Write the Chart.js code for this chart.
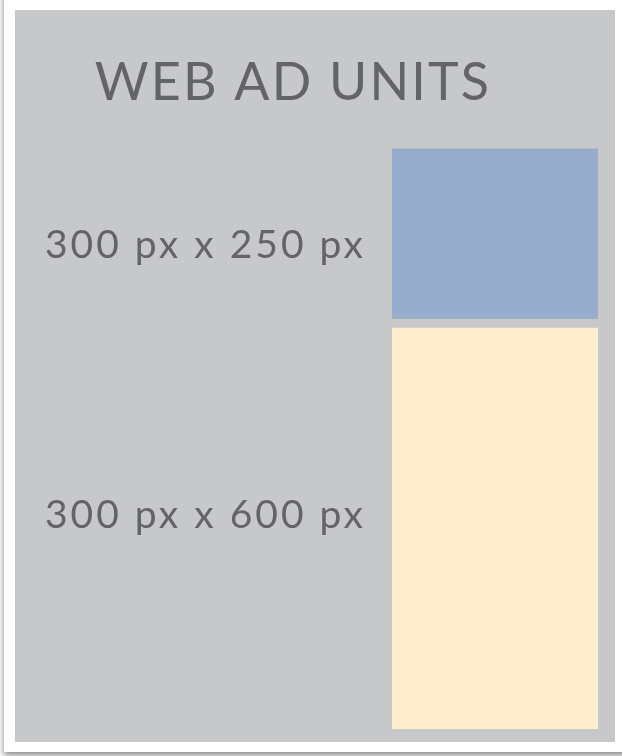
<!DOCTYPE html>
<html>
<head>
<meta charset="utf-8">
<script src="https://cdn.jsdelivr.net/npm/chart.js@4.4.1/dist/chart.umd.min.js"></script>
<style>
  html, body { margin: 0; padding: 0; background: #fafafa; }
  #wrap { width: 622px; height: 756px; }
</style>
</head>
<body>
<div id="wrap"><canvas id="adChart" width="622" height="756"></canvas></div>
<script>
// ad unit sizes (height in px, width is 300 for both)
const units = ["300 px x 600 px", "300 px x 250 px"];
const heights = [600, 250];
const unitColors = ["#feeecb", "#97adcb"];
// where the size labels sit on the value axis
const tickValues = [313, 708];

const panelColor = "#c7c8ca";
const textColor = "#636466";

// card + grey panel behind the chart, plus letter spacing for the text
const panelPlugin = {
  id: "panel",
  beforeDraw(chart) {
    const ctx = chart.ctx;
    ctx.save();
    ctx.fillStyle = "#fafafa";
    ctx.fillRect(0, 0, chart.width, chart.height);
    ctx.shadowColor = "rgba(0,0,0,0.45)";
    ctx.shadowBlur = 6;
    ctx.shadowOffsetY = 3;
    ctx.fillStyle = "#ffffff";
    ctx.fillRect(4, -20, chart.width + 20, 772);
    ctx.restore();
    ctx.fillStyle = panelColor;
    ctx.fillRect(15, 10, 600, 732);
    ctx.letterSpacing = "2.2px"; // title
  },
  beforeDatasetsDraw(chart) {
    chart.ctx.letterSpacing = "3px"; // tick labels (drawn after the bars)
  }
};

const ctx = document.getElementById("adChart").getContext("2d");

new Chart(ctx, {
  type: "bar",
  data: {
    labels: ["unit"],
    datasets: units.map((u, i) => ({
      label: u,
      data: [heights[i]],
      backgroundColor: unitColors[i],
      borderColor: panelColor,
      borderWidth: i === 0 ? { top: 9, left: 0, right: 0, bottom: 0 } : 0,
      borderSkipped: false,
      barPercentage: 1,
      categoryPercentage: 1
    }))
  },
  options: {
    responsive: false,
    animation: false,
    // negative left padding nudges the centred title left a little
    layout: { padding: { left: -12, right: 24, top: 0, bottom: 27 } },
    plugins: {
      legend: { display: false },
      tooltip: { enabled: false },
      title: {
        display: true,
        text: "WEB AD UNITS",
        color: textColor,
        font: { family: "Lato", size: 52, weight: "normal", lineHeight: 1.2 },
        padding: { top: 52, bottom: 34 }
      }
    },
    scales: {
      x: { stacked: true, display: false },
      y: {
        stacked: true,
        min: 0,
        max: heights.reduce((a, b) => a + b, 0),
        grid: { display: false, drawTicks: false },
        border: { display: false },
        afterBuildTicks: scale => {
          scale.ticks = tickValues.map(v => ({ value: v }));
        },
        afterFit: scale => {
          scale.width = 404;
          scale.paddingTop = 0;
          scale.paddingBottom = 0;
        },
        ticks: {
          z: 1,
          color: textColor,
          padding: 26,
          font: { family: "Lato", size: 39 },
          callback: (value, index) => units[index]
        }
      }
    }
  },
  plugins: [panelPlugin]
});
</script>
</body>
</html>
